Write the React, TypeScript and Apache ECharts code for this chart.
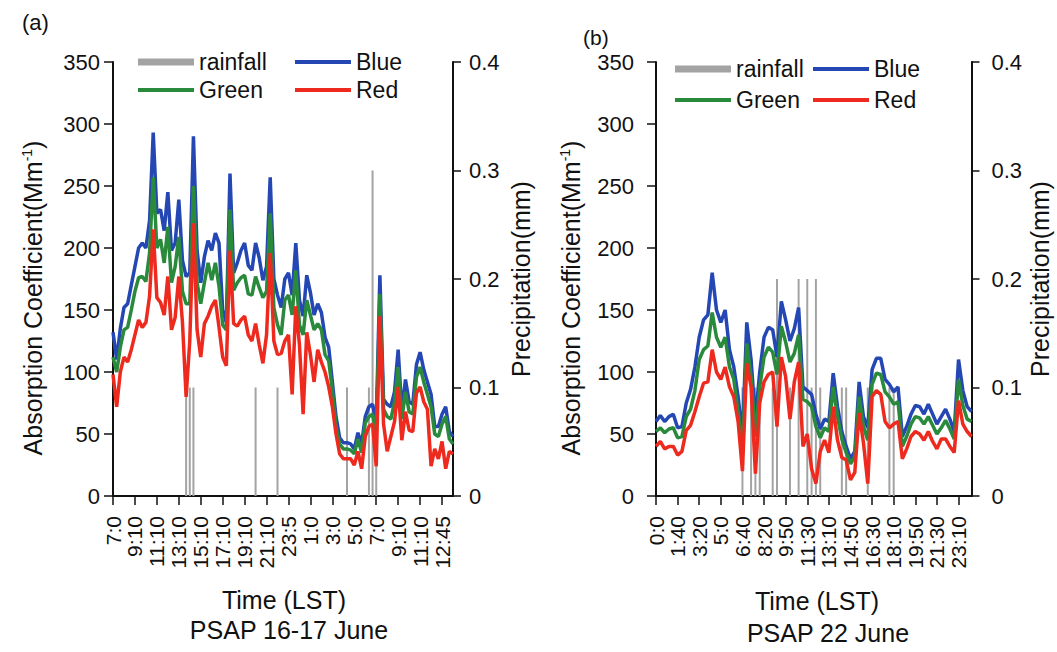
import React, { useEffect, useRef } from 'react';
import * as echarts from 'echarts';

const FONT = '"Liberation Sans", Arial, Helvetica, sans-serif';
const INK = '#111111';
const BLUE = '#2447b4';
const GREEN = '#2a8a3c';
const RED = '#ee2a1e';
const GRAY = '#a3a3a3';

// ---- Panel (a): PSAP 16-17 June ----
const tickLabelsA = ['7:0', '9:10', '11:10', '13:10', '15:10', '17:10', '19:10', '21:10', '23:5', '1:0', '3:0', '5:0', '7:0', '9:10', '11:10', '12:45'];
const blueA = [
  132, 110, 135, 152, 155, 170, 185, 200, 204, 200,
  222, 293, 228, 231, 214, 245, 198, 204, 239, 190,
  177, 180, 290, 198, 172, 193, 206, 198, 212, 204,
  150, 140, 260, 180, 188, 198, 204, 186, 182, 204,
  192, 174, 185, 257, 175, 162, 152, 175, 180, 162,
  204, 158, 145, 178, 164, 146, 155, 148, 128, 120,
  92, 64, 47, 43, 43, 42, 38, 51, 42, 64,
  72, 74, 58, 178, 78, 74, 72, 84, 118, 68,
  94, 76, 74, 106, 116, 102, 92, 82, 56, 56,
  66, 72, 52, 48,
];
const greenA = [
  112, 100, 120, 134, 136, 150, 165, 176, 177, 173,
  196, 257, 200, 207, 188, 217, 172, 185, 209, 165,
  155, 155, 250, 172, 155, 172, 188, 174, 188, 169,
  138, 134, 231, 166, 172, 176, 178, 163, 162, 177,
  168, 160, 165, 228, 152, 138, 130, 158, 162, 146,
  182, 138, 130, 158, 146, 134, 139, 134, 114, 109,
  85, 56, 42, 38, 38, 37, 34, 46, 35, 59,
  64, 66, 50, 163, 70, 64, 62, 76, 104, 62,
  84, 68, 66, 96, 104, 92, 82, 72, 50, 48,
  58, 64, 46, 42,
];
const redA = [
  98, 72, 100, 112, 108, 118, 130, 142, 136, 140,
  161, 215, 160, 156, 146, 177, 134, 144, 177, 140,
  80, 125, 220, 134, 112, 139, 145, 153, 158, 136,
  112, 105, 198, 139, 137, 142, 145, 130, 125, 139,
  122, 107, 130, 196, 125, 114, 115, 125, 130, 82,
  153, 122, 66, 132, 114, 92, 118, 108, 100, 88,
  72, 50, 34, 30, 30, 30, 25, 36, 22, 48,
  56, 58, 24, 145, 58, 36, 48, 60, 88, 45,
  68, 53, 52, 83, 88, 76, 70, 24, 38, 30,
  44, 22, 36, 34,
];
const rainA = [
  0, 0, 0, 0, 0, 0, 0, 0, 0, 0,
  0, 0, 0, 0, 0, 0, 0, 0, 0, 0,
  0.1, 0.1, 0.1, 0, 0, 0, 0, 0, 0, 0,
  0, 0, 0, 0, 0, 0, 0, 0, 0, 0.1,
  0, 0, 0, 0, 0, 0.1, 0, 0, 0, 0,
  0, 0, 0, 0, 0, 0, 0, 0, 0, 0,
  0, 0, 0, 0, 0.1, 0, 0, 0, 0, 0,
  0.1, 0.3, 0.1, 0, 0, 0, 0, 0, 0, 0,
  0, 0, 0, 0, 0, 0, 0, 0, 0, 0,
  0, 0, 0, 0,
];

// ---- Panel (b): PSAP 22 June ----
const tickLabelsB = ['0:0', '1:40', '3:20', '5:0', '6:40', '8:20', '9:50', '11:30', '13:10', '14:50', '16:30', '18:10', '19:50', '21:30', '23:10'];
const blueB = [
  60, 65, 60, 64, 66, 55, 56, 75, 86, 104,
  128, 142, 146, 180, 150, 140, 150, 118, 104, 80,
  48, 140, 110, 62, 100, 128, 136, 134, 112, 157,
  142, 125, 135, 152, 88, 85, 82, 66, 54, 62,
  60, 99, 72, 52, 40, 30, 36, 92, 64, 55,
  102, 111, 111, 94, 90, 84, 88, 48, 56, 66,
  73, 72, 66, 74, 66, 58, 64, 70, 62, 52,
  110, 85, 72, 68,
];
const greenB = [
  52, 55, 51, 54, 55, 47, 48, 64, 70, 85,
  110, 118, 121, 148, 128, 120, 128, 104, 94, 68,
  36, 123, 96, 48, 88, 112, 120, 116, 98, 137,
  124, 108, 115, 130, 78, 76, 72, 56, 47, 55,
  52, 88, 64, 46, 35, 26, 32, 80, 56, 45,
  90, 99, 98, 84, 80, 74, 76, 40, 48, 58,
  64, 63, 58, 64, 57, 50, 55, 61, 54, 46,
  94, 73, 62, 60,
];
const redB = [
  40, 44, 38, 40, 40, 33, 36, 53, 57, 68,
  80, 91, 92, 118, 100, 94, 104, 88, 80, 60,
  20, 107, 88, 18, 75, 92, 98, 100, 56, 112,
  96, 62, 92, 108, 40, 50, 22, 10, 36, 45,
  35, 72, 45, 31, 29, 13, 19, 67, 43, 10,
  80, 85, 82, 60, 55, 58, 60, 30, 38, 48,
  52, 50, 45, 52, 44, 38, 46, 46, 40, 35,
  77, 58, 52, 48,
];
const rainB = [
  0, 0, 0, 0, 0, 0, 0, 0, 0, 0,
  0, 0, 0, 0, 0, 0, 0, 0, 0, 0,
  0.1, 0, 0.1, 0.1, 0.1, 0, 0, 0.1, 0.2, 0,
  0, 0.1, 0, 0.2, 0, 0.2, 0.1, 0.2, 0.1, 0,
  0, 0, 0, 0.1, 0.1, 0, 0, 0, 0, 0.1,
  0, 0, 0, 0, 0.1, 0.1, 0, 0, 0, 0,
  0, 0, 0, 0, 0, 0, 0, 0, 0, 0,
  0, 0, 0, 0,
];

function toMin(s: string): number {
  const [h, m] = s.split(':').map(Number);
  return h * 60 + m;
}
function fmt(m: number): string {
  const v = ((Math.round(m) % 1440) + 1440) % 1440;
  return Math.floor(v / 60) + ':' + (v % 60);
}
// expands the labelled ticks into one category per data point
function buildCats(ticks: string[], per: number, total: number): string[] {
  const out: string[] = [];
  for (let t = 0; t < ticks.length && out.length < total; t++) {
    const a = toMin(ticks[t]);
    let b = t + 1 < ticks.length ? toMin(ticks[t + 1]) : a + per * 10;
    if (b < a) b += 1440;
    for (let j = 0; j < per && out.length < total; j++) {
      out.push(j === 0 ? ticks[t] : fmt(a + ((b - a) * j) / per));
    }
  }
  return out;
}

const PER_A = 6;
const PER_B = 5;
const catsA = buildCats(tickLabelsA, PER_A, blueA.length);
const catsB = buildCats(tickLabelsB, PER_B, blueB.length);

const axisLine = { show: true, onZero: false, lineStyle: { color: INK, width: 2 } };
const tickStyle = { color: INK, width: 1.5 };

function xAxis(grid: number, cats: string[], per: number) {
  return {
    type: 'category',
    gridIndex: grid,
    data: cats,
    boundaryGap: false,
    axisLine,
    axisTick: { show: true, interval: per - 1, length: 9, lineStyle: tickStyle },
    axisLabel: { interval: per - 1, rotate: 90, fontSize: 21, color: INK, fontFamily: FONT, margin: 20 },
    splitLine: { show: false },
  };
}
function yLeft(grid: number, margin: number) {
  return {
    type: 'value', gridIndex: grid, position: 'left', min: 0, max: 350, interval: 50,
    axisLine, axisTick: { show: true, length: 9, lineStyle: tickStyle },
    axisLabel: { fontSize: 22, color: INK, fontFamily: FONT, margin },
    splitLine: { show: false },
  };
}
function yRight(grid: number, margin: number) {
  return {
    type: 'value', gridIndex: grid, position: 'right', min: 0, max: 0.4, interval: 0.1,
    axisLine, axisTick: { show: true, length: 8, lineStyle: tickStyle },
    axisLabel: { fontSize: 22, color: INK, fontFamily: FONT, margin },
    splitLine: { show: false },
  };
}
function seriesFor(grid: number, rain: number[], blue: number[], green: number[], red: number[]) {
  const line = (name: string, color: string, data: number[]) => ({
    type: 'line', name, xAxisIndex: grid, yAxisIndex: grid * 2, data,
    showSymbol: false, symbol: 'none', color,
    lineStyle: { color, width: 3.5 }, z: 3,
  });
  return [
    { type: 'bar', name: 'rainfall', xAxisIndex: grid, yAxisIndex: grid * 2 + 1, data: rain, barWidth: 2, color: GRAY, itemStyle: { color: GRAY }, z: 1 },
    line('Blue', BLUE, blue),
    line('Green', GREEN, green),
    line('Red', RED, red),
  ];
}
function legend(name: string, left: number, top: number, h: number) {
  return {
    data: [{ name, icon: 'rect' }], left, top, padding: 0, itemWidth: 56, itemHeight: h,
    selectedMode: false,
    textStyle: { fontSize: 23, color: INK, fontFamily: FONT, lineHeight: 24 },
  };
}
function vText(text: string, x: number, y: number) {
  return {
    type: 'text', x, y, rotation: Math.PI / 2,
    style: { text, fill: INK, font: `25px ${FONT}`, align: 'center', verticalAlign: 'middle' },
  };
}
function vTextSup(x: number, y: number) {
  return {
    type: 'text', x, y, rotation: Math.PI / 2,
    style: {
      text: '{n|Absorption Coefficient(Mm}{s|-1}{n|)}',
      align: 'center', verticalAlign: 'middle', fill: INK,
      rich: {
        n: { fontSize: 25, fontFamily: FONT, fill: INK },
        s: { fontSize: 14, fontFamily: FONT, fill: INK, padding: [0, 0, 12, 0] },
      },
    },
  };
}
function hText(text: string, x: number, y: number, size: number, align = 'center') {
  return {
    type: 'text', x, y,
    style: { text, fill: INK, font: `${size}px ${FONT}`, align, verticalAlign: 'middle' },
  };
}

export default function App() {
  const ref = useRef<HTMLDivElement>(null);
  useEffect(() => {
    if (!ref.current) return;
    const chart = echarts.init(ref.current, undefined, { renderer: 'svg' });
    chart.setOption({
      animation: false,
      backgroundColor: '#ffffff',
      textStyle: { fontFamily: FONT },
      grid: [
        { left: 113, top: 62, width: 340, height: 434 },
        { left: 656, top: 62, width: 315.5, height: 434 },
      ],
      xAxis: [xAxis(0, catsA, PER_A), xAxis(1, catsB, PER_B)],
      yAxis: [yLeft(0, 13), yRight(0, 16), yLeft(1, 22), yRight(1, 20)],
      legend: [
        legend('rainfall', 138, 50, 7),
        legend('Blue', 295, 50, 4),
        legend('Green', 138, 78, 4),
        legend('Red', 295, 78, 4),
        legend('rainfall', 675, 57, 7),
        legend('Blue', 813, 57, 4),
        legend('Green', 675, 88, 4),
        legend('Red', 813, 88, 4),
      ],
      series: [
        ...seriesFor(0, rainA, blueA, greenA, redA),
        ...seriesFor(1, rainB, blueB, greenB, redB),
      ],
      graphic: [
        hText('(a)', 22, 22, 22, 'left'),
        hText('(b)', 583, 37, 21, 'left'),
        vTextSup(33, 298),
        vText('Precipitation(mm)', 521, 279),
        vTextSup(571, 298),
        vText('Precipitation(mm)', 1040, 279),
        hText('Time (LST)', 284, 600, 25),
        hText('PSAP 16-17 June', 289, 630, 25),
        hText('Time (LST)', 817, 601, 25),
        hText('PSAP 22 June', 828, 633, 25),
      ],
    });
    return () => chart.dispose();
  }, []);
  return (
    <div
      ref={ref}
      style={{ position: 'fixed', left: 0, top: 0, width: 1057, height: 652, background: '#fff' }}
    />
  );
}
